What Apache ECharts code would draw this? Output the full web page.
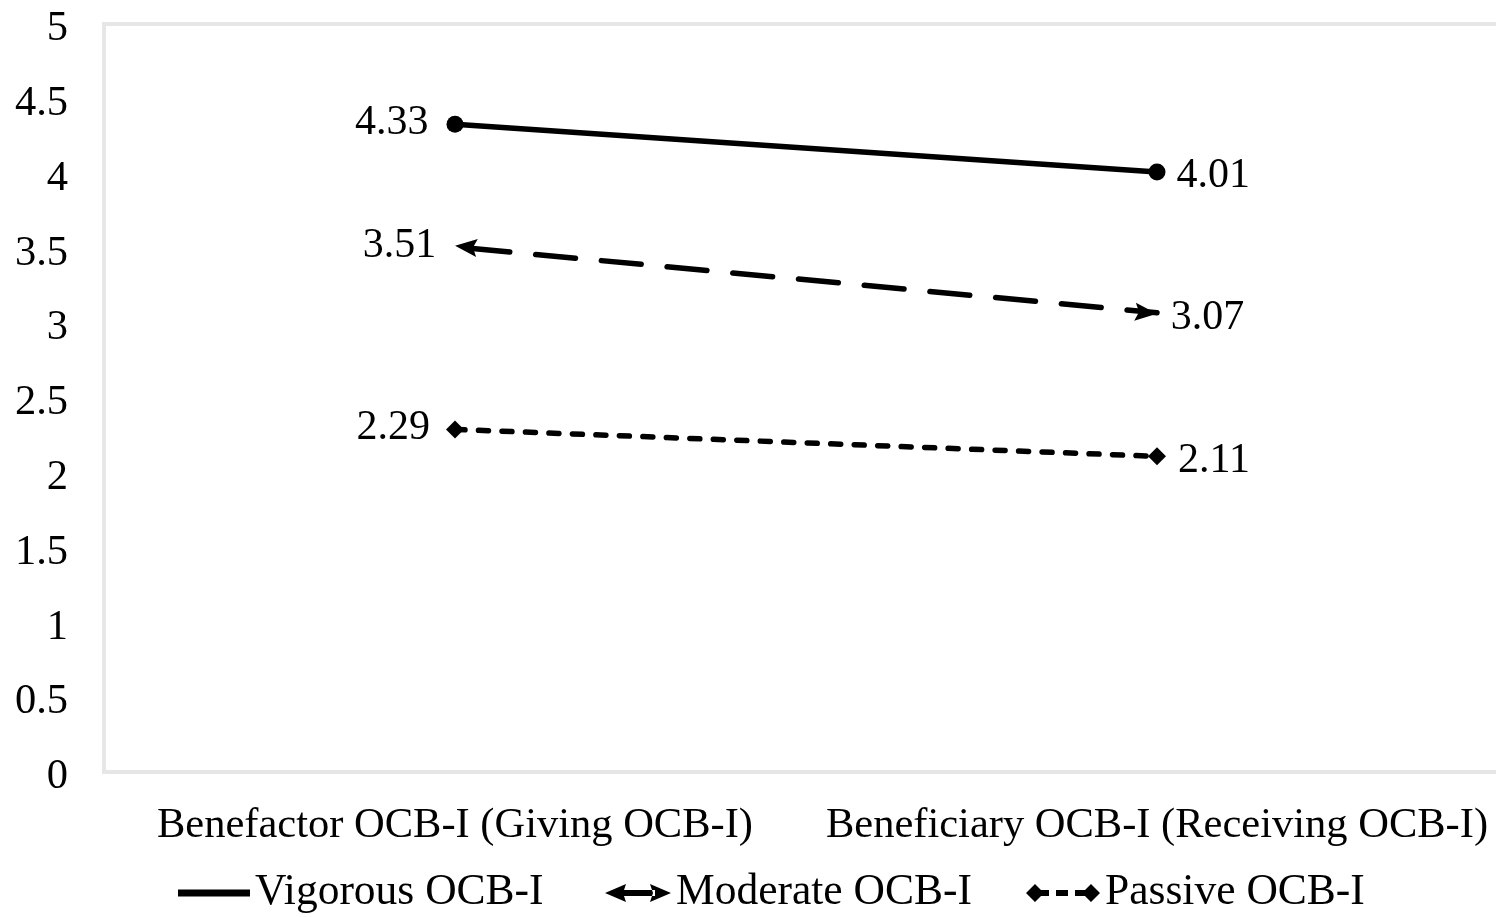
<!DOCTYPE html>
<html>
<head>
<meta charset="utf-8">
<script src="https://cdn.jsdelivr.net/npm/echarts@6/dist/echarts.min.js"></script>
<style>
html,body{margin:0;padding:0;background:#fff;}
#chart{width:1496px;height:917px;}
</style>
</head>
<body>
<div id="chart"></div>
<script>
var categories = ['Benefactor OCB-I (Giving OCB-I)', 'Beneficiary OCB-I (Receiving OCB-I)'];
var seriesNames = ['Vigorous OCB-I', 'Moderate OCB-I', 'Passive OCB-I'];
var vigorous = [4.33, 4.01];
var moderate = [3.51, 3.07];
var passive = [2.29, 2.11];

var FONT = 'Liberation Serif, Times New Roman, serif';
var chart = echarts.init(document.getElementById('chart'));

function labelFor(i, leftDist, rightDist, leftDy, rightDy) {
  return i === 0
    ? {show: true, position: 'left', distance: leftDist, offset: [0, leftDy]}
    : {show: true, position: 'right', distance: rightDist, offset: [0, rightDy]};
}

var leftArrow = 'path://M0,9 L22,0 L18,9 L22,18 Z';
var rightArrow = 'path://M22,9 L0,0 L4,9 L0,18 Z';
var diamond = 'path://M0,9 L9,0 L18,9 L9,18 Z';

var legendVig = 'path://M0,0 M72,20 M0,6.5 L72,6.5 L72,13.5 L0,13.5 Z';
var legendMod = 'path://M0,0 M66,20 M0,10 L21,1 L18,10 L21,19 Z M16,7 L50,7 L50,13 L16,13 Z M66,10 L45,1 L48,10 L45,19 Z';
var legendPas = 'path://M0,0 M74,20 M0,10 L9,1 L18,10 L9,19 Z M56,10 L65,1 L74,10 L65,19 Z M15,7 L23,7 L23,13 L15,13 Z M30,7 L42,7 L42,13 L30,13 Z M49,7 L59,7 L59,13 L49,13 Z';

var labelText = {color: '#000', fontSize: 42, fontFamily: FONT};
var legendText = {color: '#000', fontSize: 43.5, fontFamily: FONT};

function makeLegend(idx, left, w, icon) {
  return {
    top: 871, left: left, itemWidth: w, itemHeight: 20, padding: 0,
    symbolKeepAspect: false,
    textStyle: legendText,
    selectedMode: false,
    data: [{name: seriesNames[idx], icon: icon, itemStyle: {color: '#000'}}]
  };
}

var option = {
  backgroundColor: '#fff',
  animation: false,
  grid: {left: 104, right: -12, top: 24, bottom: 145, show: true, borderColor: '#e6e6e6', borderWidth: 4,
         backgroundColor: 'transparent', outerBoundsMode: 'none', containLabel: false},
  xAxis: {
    type: 'category', data: categories, boundaryGap: true,
    axisLine: {show: false}, axisTick: {show: false}, splitLine: {show: false},
    axisLabel: {color: '#000', fontSize: 42.5, fontFamily: FONT, margin: 32, interval: 0, hideOverlap: false}
  },
  yAxis: {
    type: 'value', min: 0, max: 5, interval: 0.5,
    axisLine: {show: false}, axisTick: {show: false}, splitLine: {show: false},
    axisLabel: {
      color: '#000', fontSize: 42.5, fontFamily: FONT, margin: 36,
      formatter: function (v) { return '{t|' + v + '}'; },
      rich: {t: {color: '#000', fontSize: 42.5, fontFamily: FONT, padding: [10, 0, 0, 0]}}
    }
  },
  legend: [
    makeLegend(0, 178, 72, legendVig),
    makeLegend(1, 605, 66, legendMod),
    makeLegend(2, 1026, 74, legendPas)
  ],
  series: [
    {
      name: seriesNames[0], type: 'line',
      data: vigorous.map(function (v, i) {
        return {value: v, label: labelFor(i, 18, 11, -1, 4)};
      }),
      symbol: 'circle', symbolSize: 17,
      lineStyle: {color: '#000', width: 5.5, type: 'solid'},
      itemStyle: {color: '#000'},
      label: labelText
    },
    {
      name: seriesNames[1], type: 'line',
      data: moderate.map(function (v, i) {
        return {
          value: v,
          symbol: i === 0 ? leftArrow : rightArrow,
          symbolOffset: i === 0 ? [11, 0] : [-11, 0],
          symbolRotate: -5.4,
          label: labelFor(i, 18, 13, -1, 5)
        };
      }),
      symbolSize: [22, 18],
      lineStyle: {color: '#000', width: 5.5, type: [40, 26], dashOffset: 51, cap: 'round'},
      itemStyle: {color: '#000'},
      label: labelText
    },
    {
      name: seriesNames[2], type: 'line',
      data: passive.map(function (v, i) {
        return {value: v, label: labelFor(i, 16, 12, -1, 5)};
      }),
      symbol: diamond, symbolSize: [18, 18],
      lineStyle: {color: '#000', width: 5.5, type: [10, 13.5], cap: 'round'},
      itemStyle: {color: '#000'},
      label: labelText
    }
  ]
};
chart.setOption(option);
</script>
</body>
</html>
